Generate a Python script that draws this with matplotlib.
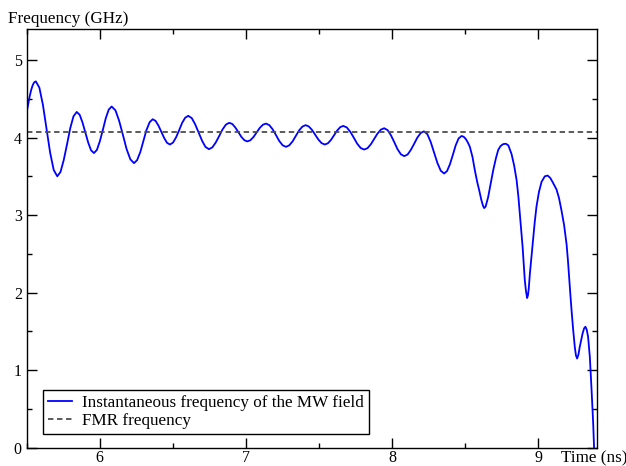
import matplotlib
matplotlib.use("Agg")
import matplotlib.pyplot as plt
from matplotlib.ticker import MultipleLocator

# valores
time_ns = [
    5.500, 5.510, 5.520, 5.530, 5.540, 5.550, 5.562,
    5.5865, 5.611, 5.6355, 5.660, 5.6845, 5.709,
    5.731, 5.753, 5.776, 5.798, 5.820, 5.842,
    5.862, 5.881, 5.901, 5.921, 5.940, 5.960,
    5.980, 6.000, 6.021, 6.041, 6.061, 6.081,
    6.107, 6.132, 6.158, 6.183, 6.209, 6.234,
    6.255, 6.277, 6.298, 6.319, 6.341, 6.362,
    6.382, 6.401, 6.421, 6.441, 6.460, 6.480,
    6.501, 6.522, 6.543, 6.563, 6.584, 6.605,
    6.629, 6.652, 6.676, 6.700, 6.723, 6.747,
    6.770, 6.793, 6.817, 6.840, 6.863, 6.886,
    6.907, 6.927, 6.948, 6.968, 6.989, 7.009,
    7.030, 7.052, 7.073, 7.094, 7.116, 7.137,
    7.160, 7.183, 7.206, 7.228, 7.251, 7.274,
    7.296, 7.319, 7.341, 7.363, 7.386, 7.408,
    7.430, 7.452, 7.474, 7.496, 7.518, 7.540,
    7.561, 7.582, 7.603, 7.624, 7.645, 7.666,
    7.690, 7.714, 7.738, 7.761, 7.785, 7.809,
    7.832, 7.855, 7.878, 7.900, 7.923, 7.946,
    7.969, 7.992, 8.015, 8.037, 8.060, 8.083,
    8.106, 8.128, 8.151, 8.173, 8.196, 8.218,
    8.241, 8.264, 8.287, 8.310, 8.333, 8.356,
    8.376, 8.396, 8.416, 8.435, 8.455, 8.475,
    8.490, 8.505, 8.520, 8.532, 8.550, 8.566, 8.582, 8.596, 8.610, 8.622, 8.630,
    8.640, 8.657, 8.675, 8.692, 8.710, 8.726, 8.742, 8.760, 8.778,
    8.795, 8.817, 8.835, 8.852, 8.864, 8.874, 8.884, 8.893, 8.908, 8.916, 8.924, 8.930,
    8.935, 8.943, 8.954, 8.965, 8.976, 8.988, 9.005, 9.023, 9.045, 9.064,
    9.082, 9.100, 9.125, 9.142, 9.159, 9.177, 9.194, 9.203, 9.211, 9.220, 9.228,
    9.239, 9.250, 9.258, 9.266, 9.275, 9.284, 9.303, 9.314, 9.323, 9.332, 9.341,
    9.353, 9.365, 9.376, 9.382,
]
freq_ghz = [
    4.33, 4.43, 4.53, 4.61, 4.67, 4.71, 4.725,
    4.643, 4.419, 4.113, 3.806, 3.582, 3.50,
    3.556, 3.708, 3.915, 4.123, 4.274, 4.33,
    4.294, 4.198, 4.065, 3.933, 3.836, 3.80,
    3.840, 3.95, 4.10, 4.25, 4.36, 4.40,
    4.351, 4.218, 4.035, 3.853, 3.719, 3.67,
    3.708, 3.812, 3.953, 4.095, 4.198, 4.236,
    4.214, 4.155, 4.073, 3.992, 3.932, 3.91,
    3.935, 4.003, 4.095, 4.188, 4.255, 4.28,
    4.251, 4.173, 4.065, 3.958, 3.879, 3.85,
    3.873, 3.935, 4.02, 4.105, 4.167, 4.19,
    4.174, 4.13, 4.07, 4.01, 3.966, 3.95,
    3.965, 4.008, 4.065, 4.123, 4.165, 4.18,
    4.16, 4.105, 4.03, 3.955, 3.90, 3.88,
    3.899, 3.95, 4.02, 4.09, 4.141, 4.16,
    4.143, 4.098, 4.035, 3.973, 3.927, 3.91,
    3.926, 3.97, 4.03, 4.09, 4.134, 4.15,
    4.13, 4.074, 3.998, 3.921, 3.865, 3.845,
    3.863, 3.914, 3.983, 4.051, 4.102, 4.12,
    4.096, 4.03, 3.94, 3.85, 3.784, 3.76,
    3.781, 3.84, 3.92, 4.00, 4.059, 4.08,
    4.044, 3.944, 3.808, 3.672, 3.572, 3.536,
    3.568, 3.657, 3.778, 3.899, 3.988, 4.02,
    4.01, 3.98, 3.93, 3.88, 3.75, 3.58, 3.43, 3.32, 3.20, 3.12, 3.09,
    3.11, 3.23, 3.41, 3.58, 3.73, 3.84, 3.89, 3.915, 3.92,
    3.90, 3.79, 3.64, 3.45, 3.24, 3.02, 2.80, 2.59, 2.16, 2.02, 1.93, 1.97,
    2.05, 2.25, 2.47, 2.68, 2.91, 3.11, 3.30, 3.43, 3.50, 3.51,
    3.48, 3.42, 3.33, 3.22, 3.06, 2.87, 2.62, 2.42, 2.20, 1.97, 1.77,
    1.52, 1.30, 1.19, 1.15, 1.20, 1.30, 1.47, 1.54, 1.56, 1.52, 1.43,
    1.17, 0.74, 0.31, 0.0,
]
fmr_freq = 4.07

plt.rcParams['font.family'] = ['Liberation Serif', 'DejaVu Serif']

fig = plt.figure(figsize=(6.26, 4.66), dpi=100)
ax = fig.add_axes([0.0427, 0.0393, 0.9105, 0.8985])

ax.plot(time_ns, freq_ghz, color='#0000ff', lw=1.3,
        label='Instantaneous frequency of the MW field')
ax.axhline(fmr_freq, color='0.3', lw=1.3, ls=(0, (3, 2)), label='FMR frequency')

ax.set_xlim(5.5, 9.4)
ax.set_ylim(0, 5.4)
ax.xaxis.set_major_locator(MultipleLocator(1))
ax.xaxis.set_minor_locator(MultipleLocator(0.5))
ax.yaxis.set_major_locator(MultipleLocator(1))
ax.yaxis.set_minor_locator(MultipleLocator(0.5))
ax.tick_params(which='both', direction='in', top=True, right=True,
               labelsize=11.5, width=1.0)
ax.tick_params(which='major', length=7.2)
ax.tick_params(which='minor', length=3.6)
ax.tick_params(axis='x', pad=1.5)
ax.tick_params(axis='y', pad=3.5)
for s in ax.spines.values():
    s.set_linewidth(1.0)

fig.text(0.0128, 0.951, 'Frequency (GHz)', fontsize=12.3, va='baseline')
fig.text(0.896, 0.0075, 'Time (ns)', fontsize=12.3, va='baseline')

leg = ax.legend(loc='lower left', bbox_to_anchor=(0.0286, 0.033), borderaxespad=0,
                fontsize=12.3, fancybox=False, framealpha=1, edgecolor='black',
                handlelength=1.4, handletextpad=0.6, borderpad=0.3, labelspacing=0.1)
leg.get_frame().set_linewidth(1.0)

plt.savefig('out.png', dpi=100)
